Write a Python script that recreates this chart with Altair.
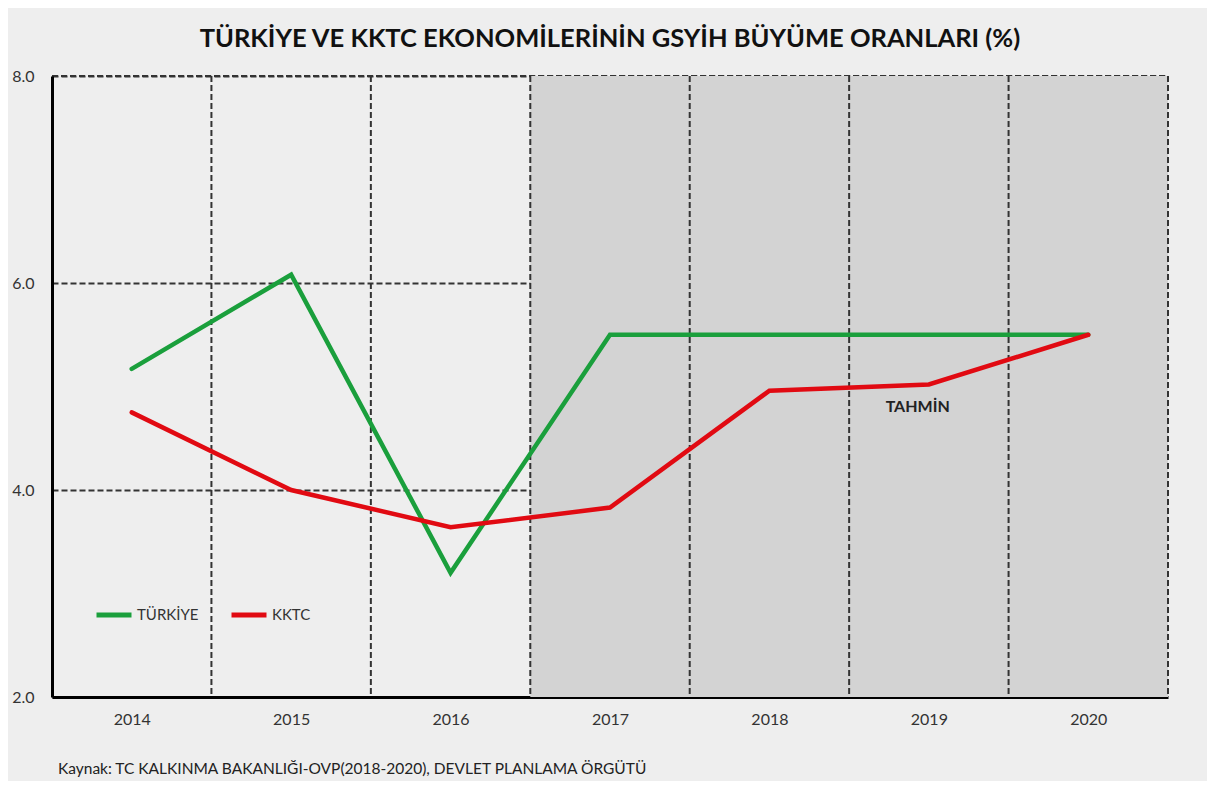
import altair as alt
import pandas as pd

years = [2014, 2015, 2016, 2017, 2018, 2019, 2020]
turkiye = [5.17, 6.08, 3.2, 5.5, 5.5, 5.5, 5.5]
kktc = [4.75, 4.0, 3.64, 3.83, 4.96, 5.02, 5.5]
series_names = ["TÜRKİYE", "KKTC"]
series_colors = ["#1a9f3c", "#e10a12"]
y_ticks = [2, 4, 6, 8]
forecast_years = [2017, 2018, 2019, 2020]
title_text = "TÜRKİYE VE KKTC EKONOMİLERİNİN GSYİH BÜYÜME ORANLARI (%)"
source_text = "Kaynak: TC KALKINMA BAKANLIĞI-OVP(2018-2020), DEVLET PLANLAMA ÖRGÜTÜ"
tahmin_label = "TAHMİN"
tahmin_pos = (2018.93, 4.8)

W, H = 1116, 621
FONT = "Lato"
GRID = "#333333"

df = pd.DataFrame(
    {"year": years * 2,
     "value": turkiye + kktc,
     "series": [series_names[0]] * len(years) + [series_names[1]] * len(years)}
)
shade = pd.DataFrame({"x0": [min(forecast_years) - 0.5], "x1": [max(forecast_years) + 0.5]})
vlines = pd.DataFrame({"x": [y + 0.5 for y in years]})
tahmin = pd.DataFrame({"x": [tahmin_pos[0]], "y": [tahmin_pos[1]], "t": [tahmin_label]})

xscale = alt.Scale(domain=[years[0] - 0.5, years[-1] + 0.5], nice=False, zero=False)
yscale = alt.Scale(domain=[2, 8], nice=False, zero=False)

shade_layer = alt.Chart(shade).mark_rect(color="#d3d3d3").encode(
    x=alt.X("x0:Q", scale=xscale), x2="x1:Q",
    y=alt.value(0), y2=alt.value(H)
)

vline_layer = alt.Chart(vlines).mark_rule(color=GRID, strokeDash=[6, 3], strokeWidth=2).encode(
    x=alt.X("x:Q", scale=xscale)
)

lines = alt.Chart(df).mark_line(strokeWidth=4.5, strokeCap="round").encode(
    x=alt.X("year:Q", scale=xscale,
            axis=alt.Axis(values=years, format="d", grid=False, ticks=False,
                          labelFont=FONT, labelFontSize=16, labelColor="#333",
                          labelPadding=14, domainColor="#000", domainWidth=3, title=None)),
    y=alt.Y("value:Q", scale=yscale,
            axis=alt.Axis(values=y_ticks, format=".1f", grid=True, gridColor=GRID,
                          gridDash=[6, 3], gridWidth=2, ticks=False,
                          labelFont=FONT, labelFontSize=16, labelColor="#333",
                          labelPadding=18, domainColor="#000", domainWidth=3, title=None)),
    color=alt.Color("series:N",
                    scale=alt.Scale(domain=series_names, range=series_colors),
                    sort=series_names,
                    legend=alt.Legend(orient="none", legendX=42, legendY=519, direction="horizontal",
                                      title=None, symbolType="stroke", symbolStrokeWidth=5,
                                      symbolSize=1225, labelFont=FONT, labelFontSize=15,
                                      labelColor="#333", columnPadding=22, labelOffset=3)),
)

tahmin_layer = alt.Chart(tahmin).mark_text(font=FONT, fontSize=16, fontWeight="bold", color="#222").encode(
    x=alt.X("x:Q", scale=xscale), y=alt.Y("y:Q", scale=yscale), text="t:N"
)

source_layer = alt.Chart(pd.DataFrame({"t": [source_text]})).mark_text(
    font=FONT, fontSize=15.5, color="#222", align="left", baseline="middle"
).encode(x=alt.value(6), y=alt.value(H + 72), text="t:N")

chart = alt.layer(shade_layer, vline_layer, lines, tahmin_layer, source_layer).properties(
    width=W, height=H,
    title=alt.TitleParams(title_text, font=FONT, fontSize=25.5, fontWeight="bold", color="#111",
                          anchor="middle", offset=16),
    background="#eeeeee",
    padding={"left": 44, "top": 68, "right": 39, "bottom": 84},
    autosize=alt.AutoSizeParams(type="none"),
).configure_view(stroke=GRID, strokeDash=[6, 3], strokeWidth=2)

chart.save("out.html", embed_options={"renderer": "svg", "actions": False})
